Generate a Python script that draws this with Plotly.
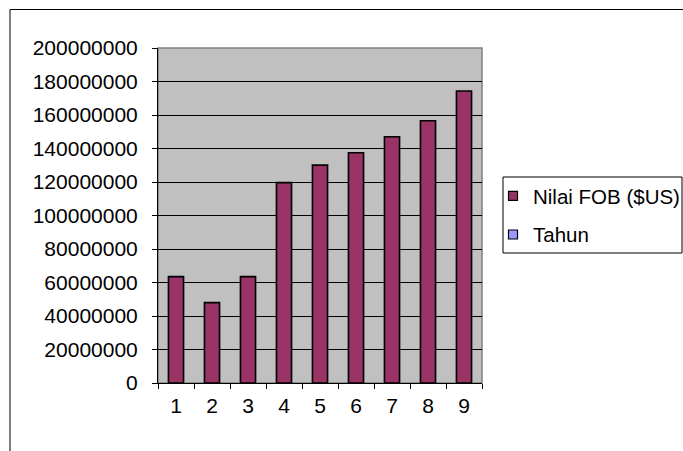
import plotly.graph_objects as go

categories = ["1", "2", "3", "4", "5", "6", "7", "8", "9"]
nilai_fob = [63500000, 48000000, 63500000, 119600000, 130100000, 137500000, 147000000, 156600000, 174300000]
y_tick_values = [0, 20000000, 40000000, 60000000, 80000000, 100000000, 120000000, 140000000, 160000000, 180000000, 200000000]
y_tick_labels = [str(v) for v in y_tick_values]
series_names = ["Nilai FOB ($US)", "Tahun"]
series_colors = ["#993366", "#9999FF"]

FONT = "Arial, 'Liberation Sans', sans-serif"
FS = 21

fig = go.Figure()
fig.add_trace(go.Bar(
    x=categories, y=nilai_fob, width=0.42,
    marker=dict(color=series_colors[0], line=dict(color="black", width=1.6)),
    showlegend=False,
))
for i, (nm, col) in enumerate(zip(series_names, series_colors)):
    fig.add_trace(go.Scatter(
        x=[None], y=[None], mode="markers", name=nm, legendgroup=f"g{i}",
        marker=dict(symbol="square", size=9, color=col, line=dict(color="black", width=1.2)),
    ))

W, H = 683, 451
# plot area in page coordinates
L, R, T, B = 158, 482, 48, 383
pw, ph = R - L, B - T

def px(x):
    return (x - L) / pw

def py(y):
    return (B - y) / ph

fig.update_layout(
    width=W, height=H,
    margin=dict(l=L, r=W - R, t=T, b=H - B, pad=0, autoexpand=False),
    paper_bgcolor="white", plot_bgcolor="#C0C0C0",
    font=dict(family=FONT, size=FS, color="black"),
    showlegend=True,
    legend=dict(
        x=px(493), y=py(176), xanchor="left", yanchor="top",
        bgcolor="rgba(0,0,0,0)", borderwidth=0,
        font=dict(family=FONT, size=20.5, color="black"),
        traceorder="grouped", tracegroupgap=9, itemwidth=30,
    ),
    xaxis=dict(
        type="category", showgrid=False, showline=True, linecolor="black", linewidth=1,
        ticks="outside", tickson="boundaries", ticklen=5, tickcolor="black", tickwidth=1,
        ticklabelstandoff=4, zeroline=False,
    ),
    yaxis=dict(
        range=[0, 200000000], tickvals=y_tick_values, ticktext=y_tick_labels,
        showgrid=True, gridcolor="black", gridwidth=1,
        showline=True, linecolor="black", linewidth=1,
        ticks="outside", ticklen=5, tickcolor="black", tickwidth=1,
        ticklabelstandoff=10, zeroline=False,
    ),
    shapes=[
        dict(type="rect", xref="paper", yref="paper", x0=0, x1=1, y0=0, y1=1,
             line=dict(color="#808080", width=1.5), layer="below"),
        dict(type="rect", xref="paper", yref="paper", x0=px(10), x1=px(760), y0=py(520), y1=py(9.5),
             line=dict(color="black", width=1)),
        dict(type="rect", xref="paper", yref="paper", x0=px(503), x1=px(682), y0=py(253), y1=py(177),
             line=dict(color="black", width=1)),
    ],
)

fig.write_html(
    "out.html",
    config={"displayModeBar": False},
    post_script="document.body.style.margin='0';document.body.style.overflow='hidden';",
)
